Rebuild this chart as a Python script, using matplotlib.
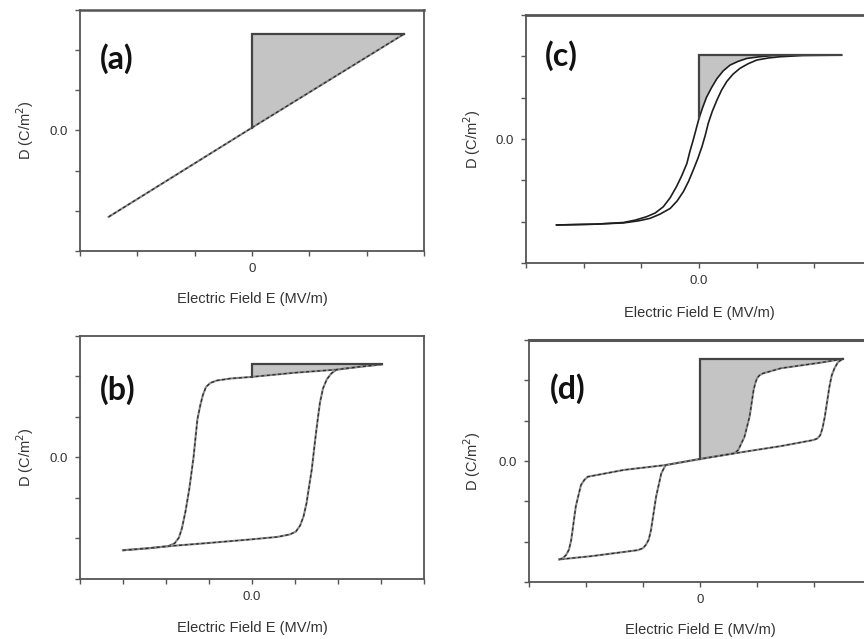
import numpy as np
import matplotlib.pyplot as plt

# (a) linear dielectric
E_a = [-2.5, 0.0, 2.65]
D_a = [-2.15, 0.07, 2.4]

# (b) ferroelectric loop: field going down, then field going up
E_b_dn = [3.02, 2.5, 1.97, 0.96, 0.0, -0.5, -0.82, -0.97, -1.07, -1.14, -1.20, -1.27,
          -1.36, -1.46, -1.55, -1.63, -1.70, -1.80, -1.95, -2.4, -3.0]
D_b_dn = [2.30, 2.24, 2.17, 2.09, 1.99, 1.95, 1.90, 1.84, 1.74, 1.55, 1.30, 0.94,
          0.0, -0.79, -1.35, -1.75, -1.98, -2.12, -2.19, -2.24, -2.29]
E_b_up = [-3.0, -2.4, -1.95, -1.0, 0.0, 0.6, 0.88, 1.02, 1.12, 1.20, 1.27, 1.33, 1.39,
          1.47, 1.53, 1.58, 1.65, 1.74, 1.85, 1.97, 2.5, 3.02]
D_b_up = [-2.29, -2.24, -2.19, -2.11, -2.02, -1.96, -1.90, -1.83, -1.68, -1.45, -1.12,
          -0.70, -0.30, 0.44, 0.95, 1.35, 1.70, 1.93, 2.08, 2.17, 2.24, 2.30]

# (c) relaxor, slim loop
E_c_dn = [2.47, 1.6, 1.29, 1.05, 0.83, 0.68, 0.54, 0.42, 0.31, 0.22, 0.13, 0.06, 0.0,
          -0.05, -0.10, -0.16, -0.21, -0.30, -0.39, -0.50, -0.62, -0.76, -0.91, -1.1,
          -1.31, -1.8, -2.47]
D_c_dn = [2.03, 2.03, 2.02, 1.99, 1.95, 1.88, 1.79, 1.65, 1.46, 1.25, 1.01, 0.75, 0.50,
          0.24, -0.02, -0.31, -0.59, -0.89, -1.15, -1.42, -1.64, -1.79, -1.88, -1.96,
          -2.02, -2.06, -2.08]
E_c_up = [-2.47, -1.8, -1.31, -1.05, -0.85, -0.68, -0.50, -0.38, -0.27, -0.18, -0.10,
          -0.02, 0.05, 0.11, 0.16, 0.23, 0.31, 0.39, 0.48, 0.59, 0.71, 0.85, 1.0, 1.2,
          1.40, 1.8, 2.47]
D_c_up = [-2.08, -2.06, -2.03, -1.98, -1.92, -1.82, -1.68, -1.50, -1.27, -1.02, -0.75,
          -0.47, -0.19, 0.10, 0.38, 0.67, 0.94, 1.18, 1.39, 1.57, 1.71, 1.82, 1.91, 1.96,
          1.99, 2.02, 2.03]

# (d) antiferroelectric double loop
E_d_dn = [2.50, 2.12, 1.42, 1.10, 1.04, 1.00, 0.97, 0.94, 0.87, 0.78, 0.67, 0.60, 0.0,
          -0.60, -0.63, -0.68, -0.77, -0.86, -0.90, -0.95, -1.00, -1.09, -1.91, -2.47]
D_d_dn = [2.53, 2.44, 2.30, 2.17, 2.12, 2.05, 1.93, 1.76, 1.10, 0.60, 0.27, 0.19, 0.05,
          -0.10, -0.17, -0.31, -0.88, -1.71, -1.95, -2.08, -2.16, -2.21, -2.36, -2.44]
E_d_up = [-2.47, -2.41, -2.35, -2.30, -2.26, -2.18, -2.09, -2.03, -1.97, -1.33, -0.60,
          0.0, 0.60, 1.42, 1.99, 2.06, 2.11, 2.15, 2.19, 2.27, 2.31, 2.36, 2.42, 2.50]
D_d_up = [-2.44, -2.41, -2.33, -2.20, -1.96, -1.13, -0.60, -0.47, -0.39, -0.22, -0.10,
          0.05, 0.19, 0.37, 0.52, 0.56, 0.64, 0.82, 1.10, 1.84, 2.12, 2.30, 2.45, 2.53]

panel_names = ['(a)', '(b)', '(c)', '(d)']
x_zero_labels = ['0', '0.0', '0.0', '0']
y_zero_label = '0.0'
xlabel = 'Electric Field E (MV/m)'
ylabel = 'D (C/m$^2$)'

FILL = '#c4c4c4'
EDGE = '#444444'
TXT = '#333333'

plt.rcParams['font.family'] = ['Liberation Sans', 'DejaVu Sans']

fig = plt.figure(figsize=(8.64, 6.39), dpi=100)


def frame(ax, xmax, zero_label, top_lw=1.3):
    ax.set_xlim(-xmax, xmax)
    ax.set_ylim(-3, 3)
    xt = np.arange(-xmax, xmax + 1)
    ax.set_xticks(xt, [zero_label if v == 0 else '' for v in xt])
    yt = np.arange(-3, 4)
    ax.set_yticks(yt, [y_zero_label if v == 0 else '' for v in yt])
    ax.tick_params(direction='out', length=3.5, width=1.0, pad=5,
                   labelsize=9.5, colors='#555555', labelcolor=TXT)
    for s in ax.spines.values():
        s.set_linewidth(1.3)
        s.set_color('#555555')
    ax.spines['top'].set_linewidth(top_lw)


def labels(ax, name, lx, ly, yx):
    ax.set_xlabel(xlabel, fontsize=10.5, color=TXT)
    ax.xaxis.set_label_coords(0.5, -0.2)
    ax.xaxis.label.set_va('center')
    ax.set_ylabel(ylabel, fontsize=10.5, color=TXT)
    ax.yaxis.set_label_coords(yx, 0.5)
    ax.yaxis.label.set_va('center')
    ax.text(lx, ly, name, transform=ax.transAxes, fontsize=23, fontweight='bold',
            family=['Lato', 'DejaVu Sans'], color='#111111', ha='left', va='center')


def loop(ax, E, D, dashed=True):
    if dashed:
        ax.plot(E, D, color='#8a8a8a', lw=1.5, zorder=2)
        ax.plot(E, D, color='#2a2a2a', lw=0.9, ls=(0, (2.5, 2)), zorder=2)
    else:
        ax.plot(E, D, color='#1e1e1e', lw=1.2, zorder=2)


def shade(ax, E, D):
    # energy area between discharge branch and D axis, branch given from +Emax down
    E = np.asarray(E)
    D = np.asarray(D)
    m = E >= 0
    e, d = E[m], D[m]
    top = d.max()
    ax.fill(np.r_[0, e], np.r_[top, d], color=FILL, lw=0, zorder=1)
    ax.plot([0, 0, e.max()], [d.min(), top, top], color=EDGE, lw=1.6, zorder=3,
            solid_joinstyle='miter')


# (a)
ax = fig.add_axes([0.0926, 0.6072, 0.3981, 0.3772])
frame(ax, 3, x_zero_labels[0], top_lw=1.8)
shade(ax, E_a[::-1], D_a[::-1])
loop(ax, E_a, D_a)
labels(ax, panel_names[0], 0.058, 0.80, -0.16)

# (b)
ax = fig.add_axes([0.0926, 0.0939, 0.3981, 0.3803])
frame(ax, 4, x_zero_labels[1])
shade(ax, E_b_dn, D_b_dn)
loop(ax, E_b_dn, D_b_dn)
loop(ax, E_b_up, D_b_up)
labels(ax, panel_names[1], 0.058, 0.778, -0.16)

# (c)
ax = fig.add_axes([0.6088, 0.5884, 0.4005, 0.3881])
frame(ax, 3, x_zero_labels[2], top_lw=2.0)
shade(ax, E_c_dn, D_c_dn)
loop(ax, E_c_dn, D_c_dn, dashed=False)
loop(ax, E_c_up, D_c_up, dashed=False)
labels(ax, panel_names[2], 0.055, 0.835, -0.156)

# (d)
ax = fig.add_axes([0.6123, 0.0892, 0.3958, 0.3787])
frame(ax, 3, x_zero_labels[3], top_lw=2.2)
shade(ax, E_d_dn, D_d_dn)
loop(ax, E_d_dn, D_d_dn)
loop(ax, E_d_up, D_d_up)
labels(ax, panel_names[3], 0.061, 0.80, -0.167)

fig.savefig('out.png', dpi=100, facecolor='white')
